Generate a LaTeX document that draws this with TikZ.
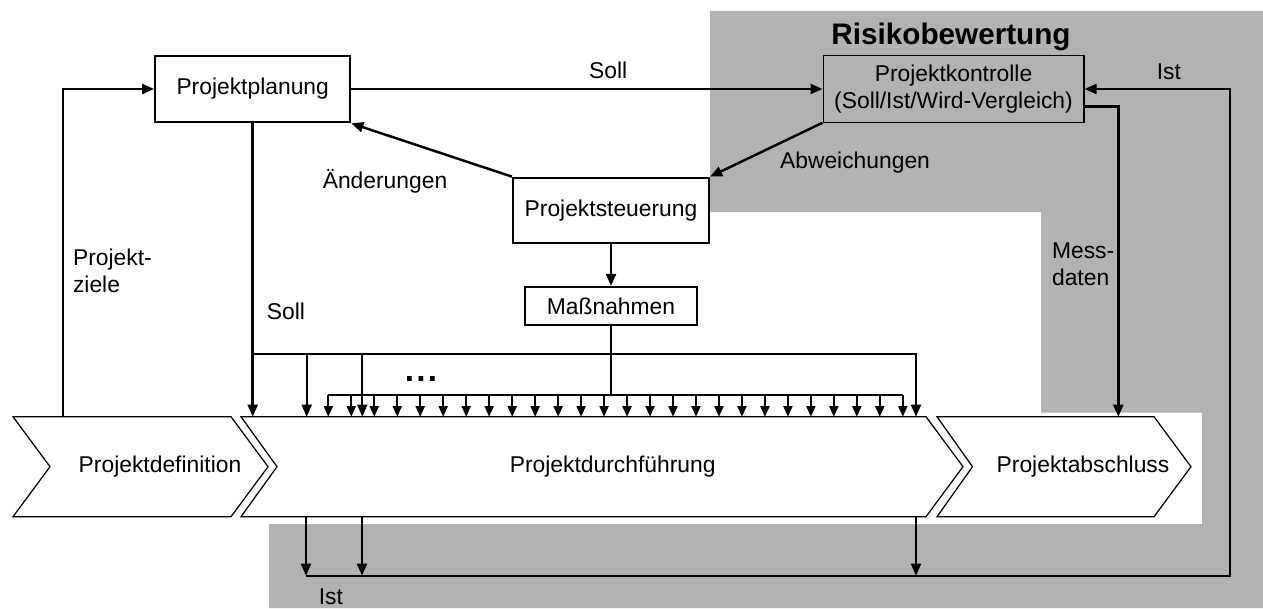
\documentclass[tikz,border=0pt]{standalone}
\usepackage{fontspec}
\setmainfont{Liberation Sans}
\usetikzlibrary{arrows.meta,positioning}
\definecolor{risk}{HTML}{B2B2B2}

\begin{document}
\begin{tikzpicture}[x=0.02cm, y=-0.02cm, node distance=1.91cm, font=\fontsize{13}{15.5}\selectfont]
    \tikzset{ box/.style={rectangle,draw,fill=white,line width=1.3pt,inner sep=0pt,align=center},
            phase/.style={draw,fill=white,line width=0.7pt},
            lbl/.style={inner sep=0pt,align=left},
            arrow/.style={-{Triangle[length=0.24cm,width=0.2cm]}, line width=1.4pt},
            tick/.style={-{Triangle[length=0.21cm,width=0.18cm]}, line width=1pt}}
    \useasboundingbox (0,0) rectangle (1263,608);

    % Bereich Risikobewertung
    \fill[risk] (710,11) -- (1263,11) -- (1263,608) -- (269,608) -- (269,524) -- (1202,524)
        -- (1202,412.7) -- (1041,412.7) -- (1041,212) -- (710,212) -- cycle;
    \node[font=\bfseries\fontsize{16.9}{20}\selectfont] (risiko) at (951,36.5) {Risikobewertung};

    % Phasen
    \draw[phase] (13,416.7) -- (231,416.7) -- (268,466.7) -- (231,516.7) -- (13,516.7) -- (50,466.7) -- cycle;
    \draw[phase] (241,416.7) -- (926,416.7) -- (963,466.7) -- (926,516.7) -- (241,516.7) -- (277,466.7) -- cycle;
    \draw[phase] (937,416.7) -- (1154,416.7) -- (1191,466.7) -- (1154,516.7) -- (937,516.7) -- (972.5,466.7) -- cycle;
    \node (def) at (160,466.7) {Projektdefinition};
    \node (durch) at (612.7,466.7) {Projektdurchführung};
    \node (absch) at (1083,466.7) {Projektabschluss};
    \coordinate (phN) at (0,416.7);
    \coordinate (phS) at (0,516.7);
    \coordinate (bus1) at (0,354.3);
    \coordinate (bus2) at (0,395);
    \coordinate (istY) at (0,575.7);

    % Bloecke
    \node[box, minimum width=3.9cm, minimum height=1.33cm] (plan) at (252.7,89) {Projektplanung};
    \node[box, fill=risk, line width=0.6pt, minimum width=5.22cm, minimum height=1.33cm] (kontr) at (953.5,89) {Projektkontrolle\\(Soll/Ist/Wird-Vergleich)};
    \node[box, minimum width=3.92cm, minimum height=1.31cm] (steuer) at (611,210.5) {Projektsteuerung};
    \node[box, below of=steuer, line width=1pt, minimum width=3.44cm, minimum height=0.77cm] (mass) {Maßnahmen};

    % Pfeile oben
    \draw[arrow] (63,0 |- phN) |- (plan);
    \node[lbl, anchor=west] (ziele) at (72.7,270.5) {Projekt-\\ziele};
    \draw[arrow] (plan) -- node[lbl, above=5pt, pos=.545] (soll1) {Soll} (kontr);
    \draw[arrow] (kontr.south west) -- (steuer.north east);
    \node[lbl] (abw) at (855,163) {Abweichungen};
    \draw[arrow] (steuer.north west) -- (plan.south east);
    \node[lbl] (aend) at (385,181.7) {Änderungen};
    \draw[arrow] (steuer) -- (mass);

    % Messdaten und Ist
    \draw[arrow] ([yshift=-0.354cm]kontr.east) -| (1118.3,0 |- phN);
    \node[lbl, anchor=west] (mess) at (1051.7,264) {Mess-\\daten};
    \draw[arrow, line width=1pt] (306,0 |- istY) -- node[lbl, below=6.8pt, pos=.027] (ist2) {Ist} (1230,0 |- istY)
        |- node[lbl, above=4.5pt, pos=.71] (ist1) {Ist} (kontr);
    \foreach \x in {306,362,916}
        \draw[arrow, line width=1.2pt] (\x,0 |- phS) -- (\x,0 |- istY);

    % Soll auf die Durchfuehrung
    \draw[arrow] (plan) -- (plan |- phN);
    \node[lbl] (soll2) at (286,311) {Soll};
    \draw[arrow, line width=1.1pt] (plan |- bus1) -| (916,0 |- phN);
    \foreach \x in {306.7,362.3}
        \draw[arrow, line width=1.1pt] (\x,0 |- bus1) -- (\x,0 |- phN);

    % Massnahmen verteilen
    \draw[line width=0.9pt] (mass) -- (mass |- bus2);
    \draw[line width=0.9pt] (328.3,0 |- bus2) -- (902.7,0 |- bus2);
    \foreach \i in {0,...,25}
        \draw[tick] ({328.3+22.98*\i},0 |- bus2) -- ({328.3+22.98*\i},0 |- phN);
    \node[font=\bfseries\fontsize{19}{19}\selectfont] (dots) at (421,379) {.\kern1.2pt.\kern1.2pt.};

\end{tikzpicture}
\end{document}
